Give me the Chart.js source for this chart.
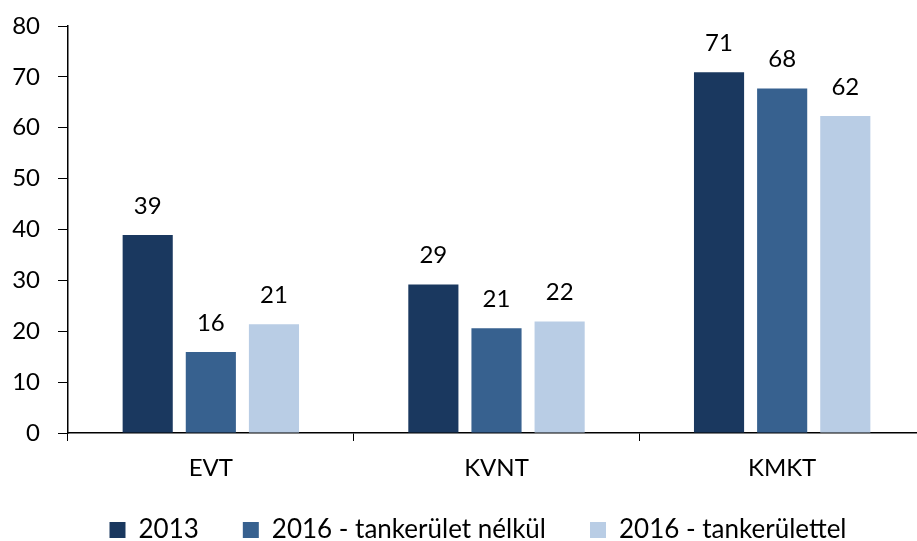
<!DOCTYPE html>
<html>
<head>
<meta charset="utf-8">
<script src="https://cdn.jsdelivr.net/npm/chart.js@4/dist/chart.umd.min.js"></script>
<style>
html,body{margin:0;padding:0;background:#fff;overflow:hidden;}
#wrap{width:917px;height:541px;}
</style>
</head>
<body>
<div id="wrap"><canvas id="c" width="917" height="541"></canvas></div>
<script>
const categories = ["EVT", "KVNT", "KMKT"];
const series2013 = [38.9, 29.2, 70.9];
const series2016nelkul = [15.9, 20.6, 67.7];
const series2016vel = [21.4, 21.9, 62.3];
const seriesNames = ["2013", "2016 - tankerület nélkül", "2016 - tankerülettel"];
const yTicks = [0, 10, 20, 30, 40, 50, 60, 70, 80];

const FONT = "Lato, 'Open Sans', sans-serif";
const FS = 24;
const LEGEND_FS = 26;

const valueLabels = {
  id: 'valueLabels',
  afterDatasetsDraw(chart) {
    const ctx = chart.ctx;
    ctx.save();
    ctx.font = FS + "px " + FONT;
    ctx.fillStyle = "#000";
    ctx.textAlign = "center";
    ctx.textBaseline = "middle";
    chart.data.datasets.forEach((ds, i) => {
      const meta = chart.getDatasetMeta(i);
      meta.data.forEach((bar, j) => {
        ctx.fillText(String(Math.round(ds.data[j])), bar.x, bar.y - 29);
      });
    });
    ctx.restore();
  }
};

// layout tweaks: the reference's category axis runs slightly past the right edge,
// and its legend row sits a little right of centre
const layoutTweak = {
  id: 'layoutTweak',
  afterLayout(chart) {
    const xs = chart.scales.x;
    if (xs) {
      xs.right += 8;
      xs.width += 8;
      xs.configure();
    }
    if (chart.legend) {
      chart.legend.left += 27;
      chart.legend.top -= 28;
    }
  }
};

new Chart(document.getElementById('c'), {
  type: 'bar',
  data: {
    labels: categories,
    datasets: [
      { label: seriesNames[0], data: series2013, backgroundColor: "#1A385F" },
      { label: seriesNames[1], data: series2016nelkul, backgroundColor: "#37618F" },
      { label: seriesNames[2], data: series2016vel, backgroundColor: "#B9CDE5" }
    ]
  },
  options: {
    responsive: false,
    animation: false,
    devicePixelRatio: 1,
    layout: { padding: { left: 12, right: 0, top: 26, bottom: 0 } },
    datasets: { bar: { categoryPercentage: 0.663, barPercentage: 0.794 } },
    plugins: {
      tooltip: { enabled: false },
      legend: {
        position: 'bottom',
        maxHeight: 40,
        labels: {
          font: { family: FONT, size: LEGEND_FS },
          color: "#000",
          boxWidth: 16,
          boxHeight: 16,
          padding: 44
        }
      }
    },
    scales: {
      x: {
        afterFit(axis) { axis.height = 68; axis.paddingLeft = 0; axis.paddingRight = 0; },
        grid: { display: true, drawOnChartArea: false, tickLength: 8, offset: true, color: "#000", lineWidth: 1 },
        border: { display: true, color: "#000", width: 1.5 },
        ticks: { font: { family: FONT, size: FS }, color: "#000", padding: 13 }
      },
      y: {
        min: 0, max: 80,
        afterBuildTicks(axis) { axis.ticks = yTicks.map(v => ({ value: v })); },
        afterFit(axis) { axis.width = 56; axis.paddingTop = 0; axis.paddingBottom = 0; },
        grid: { display: true, drawOnChartArea: false, tickLength: 10, color: "#000", lineWidth: 1 },
        border: { display: true, color: "#000", width: 1.5 },
        ticks: { font: { family: FONT, size: FS }, color: "#000", padding: 18 }
      }
    }
  },
  plugins: [valueLabels, layoutTweak]
});
</script>
</body>
</html>
